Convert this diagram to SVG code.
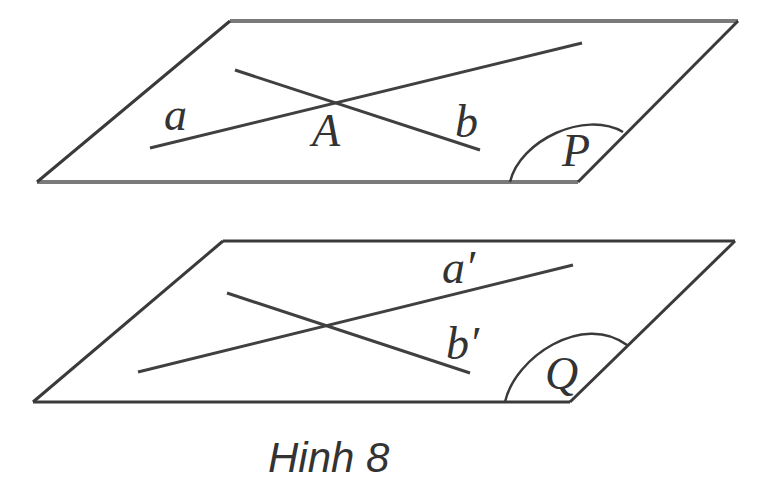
<svg xmlns="http://www.w3.org/2000/svg" width="759" height="488" viewBox="0 0 759 488">
<style>
.edge{fill:none;stroke:#3a3a3a;stroke-width:3;stroke-linejoin:miter}
.edgeP{fill:none;stroke:#7a7a7a;stroke-width:4}
.line{fill:none;stroke:#404040;stroke-width:3;stroke-linecap:butt}
.arc{fill:none;stroke:#3a3a3a;stroke-width:2.5}
.lbl{font-family:"Liberation Serif","Times New Roman",serif;font-style:italic;font-size:46px;fill:#333}
.cap{font-family:"Liberation Sans",Arial,sans-serif;font-style:italic;font-size:42px;fill:#333}
</style>
<rect width="759" height="488" fill="#ffffff"/>
<g id="planeP">
<line class="edgeP" x1="230" y1="21" x2="738" y2="21"/>
<line class="edgeP" x1="37" y1="182" x2="578" y2="182"/>
<line class="edge" x1="37" y1="182" x2="230" y2="21"/>
<line class="edge" x1="578" y1="182" x2="738" y2="21"/>
<path class="arc" d="M510,182 C520,140 585,110 623,132"/>
<text class="lbl" x="562" y="166">P</text>
</g>
<g id="planeQ">
<line class="edge" x1="223" y1="241" x2="735" y2="241"/>
<line class="edge" x1="33" y1="402" x2="570" y2="402"/>
<line class="edge" x1="33" y1="402" x2="223" y2="241"/>
<line class="edge" x1="570" y1="402" x2="735" y2="241"/>
<path class="arc" d="M505,402 C515,357 583,312 627,345"/>
<text class="lbl" x="545" y="389">Q</text>
</g>
<g id="connectors">
<line class="line" x1="150" y1="148" x2="582" y2="43"/>
<line class="line" x1="235" y1="70" x2="480" y2="150"/>
<line class="line" x1="138" y1="372" x2="573" y2="265"/>
<line class="line" x1="227" y1="293" x2="470" y2="373"/>
</g>
<g id="labels">
<text class="lbl" x="164" y="130">a</text>
<text class="lbl" x="312" y="146">A</text>
<text class="lbl" x="455" y="137">b</text>
<text class="lbl" x="442" y="283">a′</text>
<text class="lbl" x="446" y="359">b′</text>
</g>
<text class="cap" x="268" y="472">Hinh 8</text>
</svg>
